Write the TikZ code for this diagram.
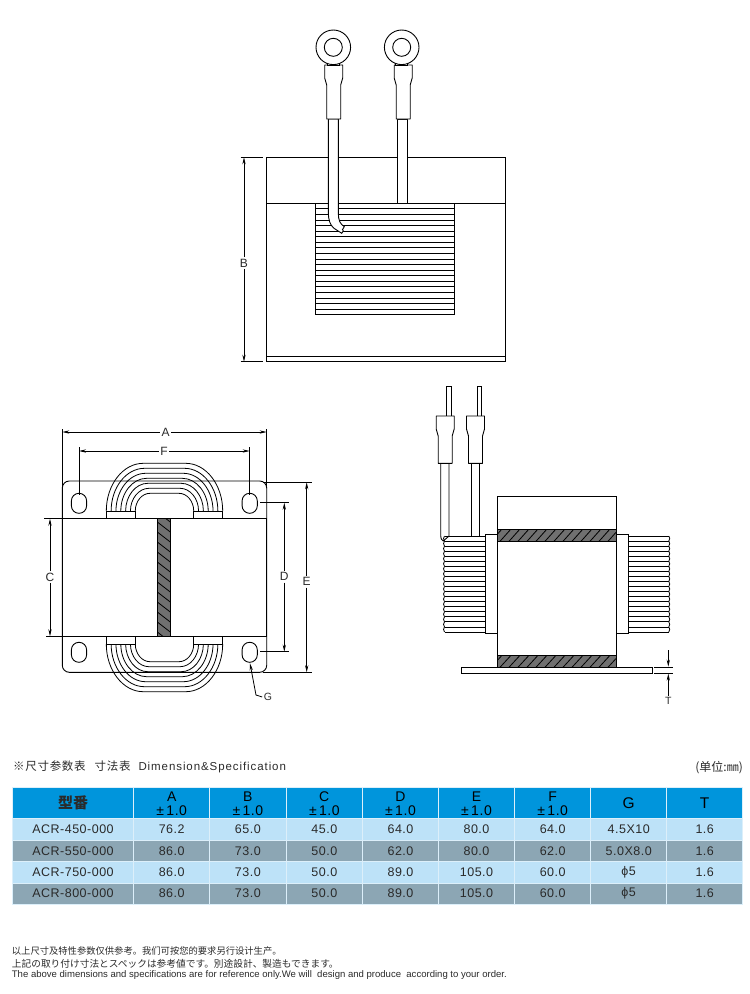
\documentclass[tikz,border=0pt]{standalone}
\usepackage{fontspec}
\usetikzlibrary{arrows.meta}
\setmainfont{Liberation Sans}
\newfontfamily\tablefont[LetterSpace=4]{Liberation Sans}
\newfontfamily\titlefont[LetterSpace=8]{Liberation Sans}
\newfontfamily\cjkfont{Noto Sans CJK SC}
\newfontfamily\cjkwide[LetterSpace=6]{Noto Sans CJK SC}
\definecolor{headblue}{HTML}{0095DC}
\definecolor{rowlight}{HTML}{BDE2F8}
\definecolor{rowdark}{HTML}{8CA6B4}
\definecolor{gridline}{HTML}{DCEFFA}
\definecolor{inktext}{HTML}{2A2A2A}
\definecolor{hatchgray}{HTML}{707070}
\tikzset{
  part/.style={draw=black,fill=white,line width=0.9pt},
  thinline/.style={draw=black,line width=0.8pt},
  dimarrow/.style={draw=black,line width=0.8pt,-{Stealth[length=7pt,width=3.2pt]}},
  dimext/.style={draw=black,line width=0.8pt},
  dimlabel/.style={font=\fontsize{12}{13}\selectfont,text=inktext,inner sep=1.5pt},
  cell/.style={font=\tablefont\fontsize{12.5}{13}\selectfont,text=inktext,inner sep=0pt},
  headcell/.style={font=\tablefont\fontsize{14}{15}\selectfont,text=black,inner sep=0pt},
  noteline/.style={anchor=west,text=inktext,inner sep=0pt},
}
\begin{document}
\begin{tikzpicture}[x=1pt,y=-1pt]
\useasboundingbox (0,0) rectangle (750,994);

% top view
\draw[part] (266.7,157.3) rectangle (505,361.7);
\draw[thinline] (266.7,203.3) -- (505,203.3);
\draw[thinline] (266.7,356) -- (505,356);
\draw[part] (315.3,203.3) rectangle (454,314.7);
\foreach \i in {1,...,19}
  \draw[thinline] (315.3,{203.3+5.57*\i}) -- (454,{203.3+5.57*\i});

% leads, both views
\draw[part] (328.3,119) -- (328.3,213) .. controls (328.5,220) and (330,225) .. (334,228.3)
  -- (341.7,233.3) -- (343.3,231) -- (342.5,229.5) -- (344.3,226.7)
  .. controls (340,224) and (338.3,220) .. (338.3,213) -- (338.3,119) -- cycle;
\draw[part] (397.7,119) rectangle (407.3,203.3);
\draw[part] (449,463.3) -- (449,536) -- (443.3,541) .. controls (441,539) .. (440.7,536) -- (440.7,463.3) -- cycle;
\draw[part] (471,463.3) rectangle (479.3,536);
\draw[part] (446.7,386.7) rectangle (451.7,416);
\draw[part] (477,386.7) rectangle (481.7,416);

% lugs, both views
\foreach \cx/\ytop/\ybot in {333.7/65/119,403.2/65/119,445.2/416/463.3,475.5/416/463.3}
  \draw[part,line join=round] (\cx-9,\ytop) -- (\cx+9,\ytop) -- (\cx+9,\ytop+13)
    -- (\cx+7,\ytop+20) -- (\cx+7,\ybot) -- (\cx-7,\ybot) -- (\cx-7,\ytop+20)
    -- (\cx-9,\ytop+13) -- cycle;
\foreach \cx in {333.3,401.7} {
  \draw[part] (\cx-6,58) rectangle (\cx+6,65);
  \draw[part] (\cx,47.3) circle (17.3);
  \draw[part] (\cx,47.3) circle (9);
}

% dimension B
\coordinate (b1) at (244,157.3);
\coordinate (b2) at (244,361.7);
\node[dimlabel] (lblB) at (244,263) {B};
\draw[dimext] (240.7,157.3) -- (263,157.3);
\draw[dimext] (240.7,361.7) -- (263,361.7);
\draw[dimarrow] (lblB) -- (b1);
\draw[dimarrow] (lblB) -- (b2);

% front view, plate and slots
\draw[part,rounded corners=7pt] (62.3,481) rectangle (266.7,672.3);
\foreach \sx/\sy in {79/503.3,249.7/503.3,79/652.3,249.7/652.3}
  \draw[part,rounded corners=7.5pt] (\sx-7.6,\sy-10) rectangle (\sx+7.6,\sy+10);

% front view, coil (the lower one is the upper one turned over)
\foreach \turn/\flip in {0/1,1155/-1} {
\begin{scope}[shift={(0,\turn)},yscale=\flip]
  \foreach \i in {0,...,6} {
    \pgfmathsetmacro\xl{106.3+4.83*\i}
    \pgfmathsetmacro\xr{222.7-4.83*\i}
    \pgfmathsetmacro\ytop{463.3+5*\i}
    \pgfmathsetmacro\rx{37-3.7*\i}
    \pgfmathsetmacro\ry{47.7-5*\i}
    \draw[thinline] (\xl,511) -- (\xl,\ytop+\ry)
      .. controls (\xl,\ytop+0.45*\ry) and (\xl+0.45*\rx,\ytop) .. (\xl+\rx,\ytop)
      -- (\xr-\rx,\ytop)
      .. controls (\xr-0.45*\rx,\ytop) and (\xr,\ytop+0.45*\ry) .. (\xr,\ytop+\ry)
      -- (\xr,511);
  }
  \draw[part] (106.3,511) rectangle (135.3,518.7);
  \draw[part] (193.7,511) rectangle (222.7,518.7);
\end{scope}
}

% front view, core
\draw[part] (62.3,518.7) rectangle (266.7,636.3);
\begin{scope}
  \clip (157.3,518.7) rectangle (170.3,636.3);
  \fill[hatchgray] (157.3,518.7) rectangle (170.3,636.3);
  \foreach \i in {0,...,12}
    \draw[thinline] (157.3,{512+10*\i}) -- (170.3,{522+10*\i});
\end{scope}
\draw[thinline] (157.3,518.7) rectangle (170.3,636.3);

% dimensions A, F
\coordinate (a1) at (62.3,432);
\coordinate (a2) at (266.7,432);
\node[dimlabel] (lblA) at (165.7,432) {A};
\draw[dimext] (62.3,429.3) -- (62.3,487);
\draw[dimext] (266.7,429.3) -- (266.7,487);
\draw[dimarrow] (lblA) -- (a1);
\draw[dimarrow] (lblA) -- (a2);

\coordinate (f1) at (79,451);
\coordinate (f2) at (249.7,451);
\node[dimlabel] (lblF) at (164,451) {F};
\draw[dimext] (79,447.3) -- (79,495);
\draw[dimext] (249.7,447.3) -- (249.7,495);
\draw[dimarrow] (lblF) -- (f1);
\draw[dimarrow] (lblF) -- (f2);

% dimensions C, D, E
\coordinate (c1) at (50,518.7);
\coordinate (c2) at (50,636.3);
\node[dimlabel] (lblC) at (50,577) {C};
\draw[dimext] (44,518.7) -- (62.3,518.7);
\draw[dimext] (46,636.3) -- (62.3,636.3);
\draw[dimarrow] (lblC) -- (c1);
\draw[dimarrow] (lblC) -- (c2);

\coordinate (d1) at (284.3,502.7);
\coordinate (d2) at (284.3,651.7);
\node[dimlabel] (lblD) at (284.3,576.7) {D};
\draw[dimext] (260,502.7) -- (289.3,502.7);
\draw[dimext] (260,651.7) -- (289.3,651.7);
\draw[dimarrow] (lblD) -- (d1);
\draw[dimarrow] (lblD) -- (d2);

\coordinate (e1) at (306.7,482.3);
\coordinate (e2) at (306.7,672.3);
\node[dimlabel] (lblE) at (306.7,581.7) {E};
\draw[dimext] (263,482.3) -- (311.7,482.3);
\draw[dimext] (263,672.3) -- (311.7,672.3);
\draw[dimarrow] (lblE) -- (e1);
\draw[dimarrow] (lblE) -- (e2);

% leader G
\coordinate (g1) at (250,663.3);
\coordinate (g2) at (256,695);
\node[dimlabel,font=\fontsize{10.5}{11}\selectfont] (lblG) at (268,697) {G};
\draw[dimarrow] (lblG.west) -- (g2) -- (g1);

% side view, windings
\foreach \i in {0,...,18} {
  \draw[thinline] (444.5,{536+5.05*\i}) .. controls (443.2,{537+5.05*\i}) and (443.2,{540+5.05*\i}) .. (444.5,{541.05+5.05*\i});
  \draw[thinline] (668.8,{536+5.05*\i}) .. controls (670.1,{537+5.05*\i}) and (670.1,{540+5.05*\i}) .. (668.8,{541.05+5.05*\i});
}
\foreach \i in {0,...,19} {
  \draw[thinline] (444.5,{536+5.05*\i}) -- (485.7,{536+5.05*\i});
  \draw[thinline] (628.3,{536+5.05*\i}) -- (668.8,{536+5.05*\i});
}
\draw[part] (485.7,534.7) rectangle (497.7,633.3);
\draw[part] (616,534.7) rectangle (628.3,633.3);

% side view, core and plate
\draw[part] (497.7,496.7) rectangle (616,667.3);
\foreach \ya/\yb in {529/541.3,655.3/667.3} {
  \begin{scope}
    \clip (497.7,\ya) rectangle (616,\yb);
    \fill[hatchgray] (497.7,\ya) rectangle (616,\yb);
    \foreach \i in {0,...,14}
      \draw[thinline] ({491+9*\i},\yb) -- ({502+9*\i},\ya);
  \end{scope}
  \draw[thinline] (497.7,\ya) rectangle (616,\yb);
}
\draw[part] (461.7,667.3) rectangle (652,673);

% dimension T
\coordinate (t1) at (668.3,650);
\coordinate (t2) at (668.3,666.7);
\coordinate (t3) at (668.3,673.6);
\node[dimlabel,font=\fontsize{10.5}{11}\selectfont] (lblT) at (668.3,701) {T};
\draw[dimext] (654.3,667.3) -- (672.7,667.3);
\draw[dimext] (654.3,673) -- (672.7,673);
\draw[dimarrow] (t1) -- (t2);
\draw[dimarrow] (lblT) -- (t3);

% table head lines
\node[noteline,font=\fontsize{11.5}{12}\selectfont] (tabletitle) at (13,767.3)
  {{\cjkwide ※尺寸参数表}\hspace{9pt}{\cjkwide 寸法表}\hspace{8pt}{\titlefont Dimension\&Specification}};
\node[anchor=east,text=inktext,inner sep=0pt,font=\fontsize{12}{13}\selectfont] (unitnote) at (743,767.3)
  {{\cjkfont (单位:㎜)}};

% table
\fill[headblue] (12.3,787.3) rectangle (742.7,818.3);
\fill[rowlight] (12.3,818.3) rectangle (742.7,840);
\fill[rowdark] (12.3,840) rectangle (742.7,861.3);
\fill[rowlight] (12.3,861.3) rectangle (742.7,883);
\fill[rowdark] (12.3,883) rectangle (742.7,904);
\foreach \yy in {787.3,818.3,840,861.3,883,904}
  \draw[gridline,line width=0.8pt] (12.3,\yy) -- (742.7,\yy);
\foreach \xx in {12.3,133.7,209.7,286,362.7,438.3,514.7,590.7,666.7,742.7}
  \draw[gridline,line width=0.8pt] (\xx,787.3) -- (\xx,904);

\def\colpos{{73,171.7,247.8,324.3,400.5,476.5,552.7,628.7,704.7}}
\node[font=\cjkfont\bfseries\fontsize{15}{16}\selectfont,text=inktext,inner sep=0pt] (headtype) at (73,803) {型番};
\foreach \lbl [count=\c from 1] in {A,B,C,D,E,F} {
  \pgfmathsetmacro\cx{\colpos[\c]}
  \node[headcell] (head\lbl) at (\cx,796.5) {\lbl};
  \node[headcell] (tol\lbl) at (\cx,810.5) {±\,1.0};
}
\node[headcell,font=\tablefont\fontsize{15.5}{16}\selectfont] (headG) at (628.7,803) {G};
\node[headcell,font=\tablefont\fontsize{15.5}{16}\selectfont] (headT) at (704.7,803) {T};
\foreach \rowy/\rowvals [count=\r] in {
  829.3/{ACR-450-000,76.2,65.0,45.0,64.0,80.0,64.0,4.5X10,1.6},
  850.7/{ACR-550-000,86.0,73.0,50.0,62.0,80.0,62.0,5.0X8.0,1.6},
  872.2/{ACR-750-000,86.0,73.0,50.0,89.0,105.0,60.0,ϕ5,1.6},
  893.5/{ACR-800-000,86.0,73.0,50.0,89.0,105.0,60.0,ϕ5,1.6}} {
  \foreach \v [count=\c from 0] in \rowvals {
    \pgfmathsetmacro\cx{\colpos[\c]}
    \node[cell] (cell\r-\c) at (\cx,\rowy) {\v};
  }
}

% notes
\node[noteline,font=\cjkfont\fontsize{9.3}{10}\selectfont] (noteone) at (11.7,950.7) {以上尺寸及特性参数仅供参考。我们可按您的要求另行设计生产。};
\node[noteline,font=\cjkfont\fontsize{9.7}{10}\selectfont] (notetwo) at (11.7,963.3) {上記の取り付け寸法とスペックは参考値です。別途設計、製造もできます。};
\node[noteline,font=\fontsize{9.55}{10}\selectfont] (notethree) at (11.7,975) {The above dimensions and specifications are for reference only.We will\ \ design and produce\ \ according to your order.};
\end{tikzpicture}
\end{document}
